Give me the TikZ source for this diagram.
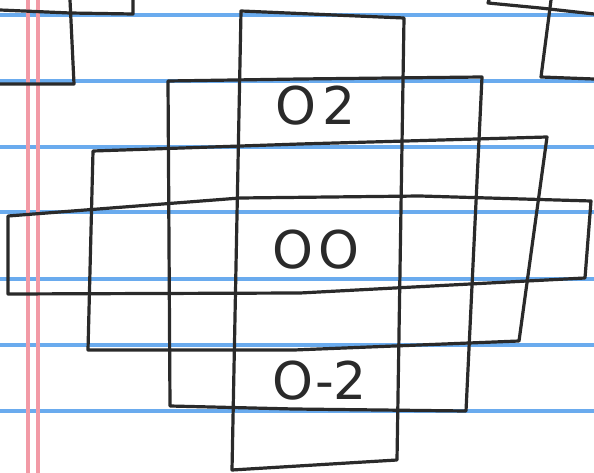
\documentclass[tikz,border=0pt]{standalone}
\usepackage{fontspec}
\setmainfont{DejaVu Sans}
\definecolor{ruleblue}{HTML}{6AABEE}
\definecolor{marginpink}{HTML}{F29AA6}
\definecolor{pencil}{HTML}{2A2A2A}
\tikzset{
  paperline/.style={line width=3.2pt, ruleblue},
  marginline/.style={line width=3.4pt, marginpink},
  sketch/.style={line width=3.2pt, pencil, line join=round, line cap=round},
  handlabel/.style={font=\fontsize{52}{52}\selectfont, text=pencil, inner sep=0pt}
}
\begin{document}
\begin{tikzpicture}[x=1pt, y=-1pt]
\useasboundingbox (0,0) rectangle (594,473);
\fill[white] (0,0) rectangle (594,473);
% ruled lines
\foreach \yy in {15,81,147,212,279,345,411}
  \draw[paperline] (0,\yy) -- (594,\yy);
% margin lines
\draw[marginline] (28,0) -- (28,473);
\draw[marginline] (38,0) -- (38,473);
% neighbouring tiles (partial)
\draw[sketch] (0,10) -- (70,13) -- (133,14) -- (133,0);
\draw[sketch] (70,0) -- (74,84) -- (0,84);
\draw[sketch] (489,0) -- (488,3) -- (540,8) -- (594,14);
\draw[sketch] (551,0) -- (541,77) -- (594,79);
% central tiles
\draw[sketch] (241,11) -- (404,18) -- (397,460) -- (232,470) -- cycle;
\draw[sketch] (168,81) -- (300,79) -- (482,77) -- (466,411) -- (294,409) -- (170,406) -- cycle;
\draw[sketch] (93,151) -- (300,144) -- (547,137) -- (519,341) -- (294,350) -- (88,350) -- cycle;
\draw[sketch] (8,216) -- (240,198) -- (420,196) -- (591,201) -- (585,278) -- (527,281) -- (300,293) -- (8,294) -- cycle;
% labels
\node[handlabel] (top) at (316,106) {O\kern6pt2};
\node[handlabel] (mid) at (316,250) {O\kern6ptO};
\node[handlabel] (bot) at (320,381) {O-2};
\end{tikzpicture}
\end{document}
